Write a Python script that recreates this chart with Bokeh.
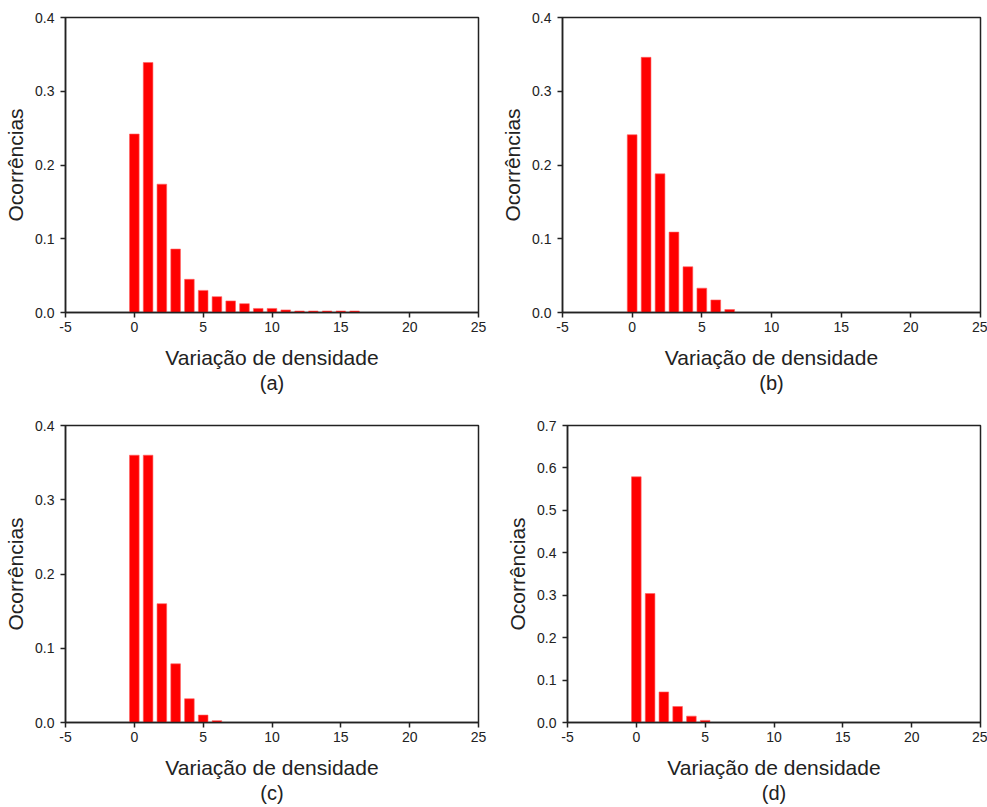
from bokeh.plotting import figure
from bokeh.layouts import column, row
from bokeh.models import Title, NumeralTickFormatter, FixedTicker, Range1d
from bokeh.embed import file_html
from bokeh.resources import INLINE

# ---- data ----
a_vals = [0.242, 0.339, 0.174, 0.086, 0.045, 0.030, 0.0215, 0.0157, 0.012,
          0.0055, 0.0055, 0.0035, 0.002, 0.002, 0.002, 0.002, 0.002]
b_vals = [0.241, 0.346, 0.188, 0.109, 0.062, 0.033, 0.017, 0.004]
c_vals = [0.360, 0.360, 0.160, 0.079, 0.032, 0.010, 0.0025]
d_vals = [0.579, 0.304, 0.072, 0.0377, 0.015, 0.005]

x_ticks = [-5, 0, 5, 10, 15, 20, 25]
y_ticks_04 = [0.0, 0.1, 0.2, 0.3, 0.4]
y_ticks_07 = [0.0, 0.1, 0.2, 0.3, 0.4, 0.5, 0.6, 0.7]
captions = ["(a)", "(b)", "(c)", "(d)"]
x_label = "Variação de densidade"
y_label = "Ocorrências"

FONT = "Liberation Sans"
TXT = "#222222"
AX = "#222222"


def panel(vals, ymax, yticks, caption, w, h, bl, br, bt, bb):
    p = figure(width=w, height=h, output_backend="svg", toolbar_location=None,
               x_range=Range1d(-5, 25), y_range=Range1d(0, ymax),
               min_border_left=bl, min_border_right=br,
               min_border_top=bt, min_border_bottom=bb)
    xs = list(range(len(vals)))
    p.vbar(x=xs, top=vals, bottom=0, width=0.7, fill_color="#ff0000",
           line_color="#ff6060", line_width=0.6)
    p.xgrid.visible = False
    p.ygrid.visible = False
    p.outline_line_color = AX
    p.outline_line_width = 1.5
    p.background_fill_color = "white"
    p.border_fill_color = "white"

    p.xaxis.ticker = FixedTicker(ticks=x_ticks)
    p.yaxis.ticker = FixedTicker(ticks=yticks)
    p.xaxis.formatter = NumeralTickFormatter(format="0")
    p.yaxis.formatter = NumeralTickFormatter(format="0.0")
    for ax in (p.xaxis[0], p.yaxis[0]):
        ax.axis_line_color = AX
        ax.axis_line_width = 1.5
        ax.major_tick_line_color = AX
        ax.major_tick_line_width = 1.5
        ax.major_tick_out = 5
        ax.major_tick_in = 0
        ax.minor_tick_line_color = None
        ax.major_label_text_font = FONT
        ax.major_label_text_font_size = "14px"
        ax.major_label_text_color = TXT
        ax.axis_label_text_font = FONT
        ax.axis_label_text_font_size = "21px"
        ax.axis_label_text_font_style = "normal"
        ax.axis_label_text_color = TXT
    p.xaxis.axis_label = x_label
    p.yaxis.axis_label = y_label
    p.xaxis.major_label_standoff = 4
    p.yaxis.major_label_standoff = 6
    p.xaxis.axis_label_standoff = 11
    p.yaxis.axis_label_standoff = 5

    t = Title(text=caption, align="center", text_font=FONT,
              text_font_size="20px", text_font_style="normal",
              text_color=TXT, standoff=-4, offset=0)
    p.add_layout(t, "below")
    return p


# page is drawn from (0,0): borders include the reference's white margins
pa = panel(a_vals, 0.4, y_ticks_04, captions[0], 490, 400, 65, 12, 15, 88)
pb = panel(b_vals, 0.4, y_ticks_04, captions[1], 497, 400, 72, 7, 17, 83)
pc = panel(c_vals, 0.4, y_ticks_04, captions[2], 490, 407, 65, 12, 25, 84)
pd = panel(d_vals, 0.7, y_ticks_07, captions[3], 497, 407, 77, 7, 24, 85)

layout = column(row(pa, pb), row(pc, pd))

open("out.html", "w").write(file_html(layout, INLINE))
